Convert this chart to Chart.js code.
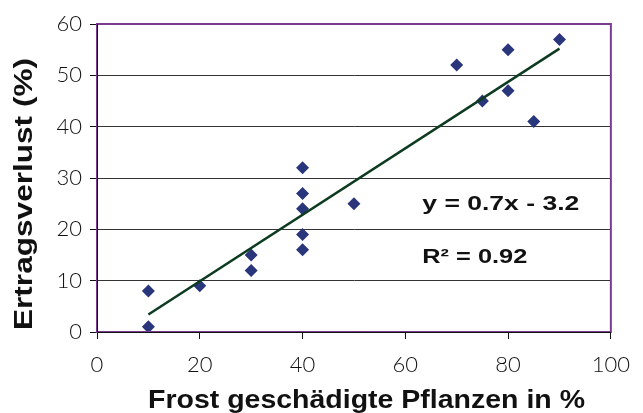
<!DOCTYPE html>
<html>
<head>
<meta charset="utf-8">
<script src="https://cdn.jsdelivr.net/npm/chart.js@4.4.1/dist/chart.umd.min.js"></script>
<style>
  html, body { margin: 0; padding: 0; background: #fff; }
  canvas { display: block; }
</style>
</head>
<body>
<canvas id="frostChart" width="643" height="413"></canvas>
<script>
// Frost damage vs. yield loss
const frostPct = [10, 10, 20, 30, 30, 40, 40, 40, 40, 40, 50, 70, 75, 80, 80, 85, 90];
const yieldLoss = [1, 8, 9, 15, 12, 32, 27, 24, 19, 16, 25, 52, 45, 55, 47, 41, 57];

// trend line ends as drawn in the original
const trendX = [10, 90];
const trendY = [3.4, 55.2];

const xTicks = [0, 20, 40, 60, 80, 100];
const yTicks = [0, 10, 20, 30, 40, 50, 60];

const xTitle = "Frost geschädigte Pflanzen in %";
const yTitle = "Ertragsverlust (%)";
const equationText = "y = 0.7x - 3.2";
const rSquaredText = "R\u00B2 = 0.92";

const tickFont = { family: "Lato, 'Liberation Sans', sans-serif", size: 22, weight: 300 };
const BOLD = "'Liberation Sans', Arial, sans-serif";

// the original text is a bit stretched sideways, so fit it to a given width
function stretchedText(ctx, text, x, y, width, align) {
  const w = ctx.measureText(text).width;
  const k = width / w;
  ctx.save();
  ctx.translate(x, y);
  ctx.scale(k, 1);
  ctx.textAlign = align;
  ctx.fillText(text, 0, 0);
  ctx.restore();
}

const frameAndLabels = {
  id: "frameAndLabels",
  afterDatasetsDraw(chart) {
    const { ctx, chartArea: a, scales } = chart;
    ctx.save();
    ctx.strokeStyle = "#7b3b93";
    ctx.lineWidth = 2;
    ctx.strokeRect(a.left, a.top, a.right - a.left, a.bottom - a.top);
    ctx.strokeStyle = "#111";
    ctx.lineWidth = 1;
    ctx.beginPath();
    ctx.moveTo(a.left + 0.5, a.top);
    ctx.lineTo(a.left + 0.5, a.bottom + 0.5);
    ctx.lineTo(a.right, a.bottom + 0.5);
    ctx.stroke();

    ctx.fillStyle = "#111";
    ctx.textBaseline = "alphabetic";

    // regression text
    ctx.font = "bold 21px " + BOLD;
    const tx = scales.x.getPixelForValue(63.3);
    stretchedText(ctx, equationText, tx, scales.y.getPixelForValue(23.8), 157, "left");
    stretchedText(ctx, rSquaredText, tx, scales.y.getPixelForValue(13.35), 105, "left");

    // axis titles
    ctx.font = "bold 25px " + BOLD;
    stretchedText(ctx, xTitle, 366.5, 408, 437, "center");

    ctx.save();
    ctx.translate(32, 194);
    ctx.rotate(-Math.PI / 2);
    stretchedText(ctx, yTitle, 0, 0, 272, "center");
    ctx.restore();

    ctx.restore();
  }
};

new Chart(document.getElementById("frostChart").getContext("2d"), {
  type: "scatter",
  data: {
    datasets: [
      {
        label: "Messwerte",
        data: frostPct.map((x, i) => ({ x: x, y: yieldLoss[i] })),
        pointStyle: "rectRot",
        pointRadius: 6.5,
        pointBackgroundColor: "#29367c",
        pointBorderColor: "#29367c",
        pointBorderWidth: 0,
        order: 2,
      },
      {
        label: "Trend",
        type: "line",
        data: trendX.map((x, i) => ({ x: x, y: trendY[i] })),
        borderColor: "#0d3b1f",
        borderWidth: 2.5,
        pointRadius: 0,
        fill: false,
        order: 1,
      },
    ],
  },
  options: {
    responsive: false,
    animation: false,
    devicePixelRatio: 1,
    layout: { padding: { top: 24, right: 31, left: 0, bottom: 0 } },
    plugins: { legend: { display: false }, tooltip: { enabled: false } },
    scales: {
      x: {
        type: "linear",
        min: 0,
        max: 100,
        afterBuildTicks: (s) => { s.ticks = xTicks.map((v) => ({ value: v })); },
        afterFit: (s) => { s.height = 81; },
        grid: { drawOnChartArea: false, tickLength: 7, color: "#111", lineWidth: 1 },
        border: { display: true, color: "#111" },
        ticks: { color: "#111", font: tickFont, padding: 13, maxRotation: 0 },
      },
      y: {
        type: "linear",
        min: 0,
        max: 60,
        afterBuildTicks: (s) => { s.ticks = yTicks.map((v) => ({ value: v })); },
        afterFit: (s) => { s.width = 97; },
        grid: { color: "#333", lineWidth: 1, tickLength: 7, tickColor: "#111" },
        border: { display: true, color: "#111" },
        ticks: { color: "#111", font: tickFont, padding: 8 },
      },
    },
  },
  plugins: [frameAndLabels],
});
</script>
</body>
</html>
